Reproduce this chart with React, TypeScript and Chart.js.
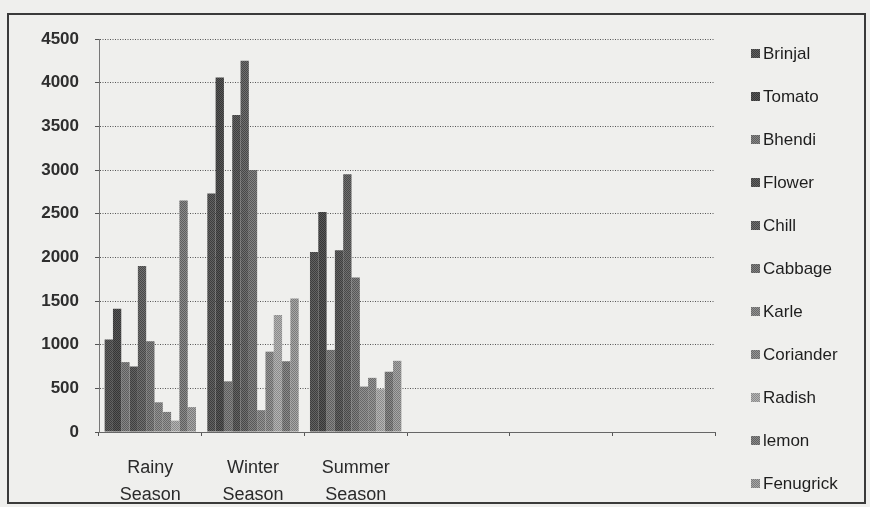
import React, { useEffect, useRef } from "react";
import { Chart, registerables } from "chart.js";

Chart.register(...registerables);

const categories: (string | string[])[] = [
  ["Rainy", "Season"],
  ["Winter", "Season"],
  ["Summer", "Season"],
  "",
  "",
  "",
];

const seriesNames = [
  "Brinjal",
  "Tomato",
  "Bhendi",
  "Flower",
  "Chill",
  "Cabbage",
  "Karle",
  "Coriander",
  "Radish",
  "lemon",
  "Fenugrick",
];

const brinjal = [1060, 2730, 2060, null, null, null];
const tomato = [1410, 4060, 2520, null, null, null];
const bhendi = [800, 580, 940, null, null, null];
const flower = [750, 3630, 2080, null, null, null];
const chill = [1900, 4250, 2950, null, null, null];
const cabbage = [1040, 3000, 1770, null, null, null];
const karle = [340, 250, 520, null, null, null];
const coriander = [230, 920, 620, null, null, null];
const radish = [130, 1340, 490, null, null, null];
const lemon = [2650, 810, 690, null, null, null];
const fenugrick = [285, 1530, 815, null, null, null];

const seriesValues = [
  brinjal,
  tomato,
  bhendi,
  flower,
  chill,
  cabbage,
  karle,
  coriander,
  radish,
  lemon,
  fenugrick,
];

const yTicks = [0, 500, 1000, 1500, 2000, 2500, 3000, 3500, 4000, 4500];

const shades: [string, string][] = [
  ["#3e3e3e", "#626262"],
  ["#363636", "#585858"],
  ["#5e5e5e", "#868686"],
  ["#3f3f3f", "#636363"],
  ["#484848", "#707070"],
  ["#585858", "#828282"],
  ["#686868", "#929292"],
  ["#6a6a6a", "#969696"],
  ["#8a8a8a", "#b4b4b4"],
  ["#5e5e5e", "#8a8a8a"],
  ["#7a7a7a", "#a6a6a6"],
];

function makePattern(dark: string, light: string): CanvasPattern | string {
  const c = document.createElement("canvas");
  c.width = 2;
  c.height = 2;
  const ctx = c.getContext("2d");
  if (!ctx) return dark;
  ctx.fillStyle = light;
  ctx.fillRect(0, 0, 2, 2);
  ctx.fillStyle = dark;
  ctx.fillRect(0, 0, 1, 1);
  ctx.fillRect(1, 1, 1, 1);
  const p = ctx.createPattern(c, "repeat");
  return p || dark;
}

const framePlugin = {
  id: "frame",
  beforeDraw(chart: any) {
    const ctx = chart.ctx;
    ctx.save();
    ctx.fillStyle = "#efefed";
    ctx.fillRect(0, 0, chart.width, chart.height);
    ctx.strokeStyle = "#3a3a3a";
    ctx.lineWidth = 2;
    ctx.strokeRect(8, 14, 857, 489);
    ctx.restore();
  },
  afterDraw(chart: any) {
    const ctx = chart.ctx;
    ctx.save();
    ctx.font = '17px "Liberation Sans", Arial, sans-serif';
    ctx.textBaseline = "middle";
    ctx.textAlign = "left";
    chart.data.datasets.forEach((ds: any, i: number) => {
      const y = 54 + i * 43;
      ctx.fillStyle = ds.backgroundColor;
      ctx.fillRect(751, y - 5, 9, 9);
      ctx.fillStyle = "#1e1e1e";
      ctx.fillText(ds.label, 763, y);
    });
    ctx.restore();
  },
};

export default function App() {
  const ref = useRef<HTMLCanvasElement | null>(null);

  useEffect(() => {
    if (!ref.current) return;
    const datasets = seriesNames.map((name, i) => ({
      label: name,
      data: seriesValues[i],
      backgroundColor: makePattern(shades[i][0], shades[i][1]),
      borderWidth: 0,
      barPercentage: 1,
      categoryPercentage: 0.89,
    }));
    const chart = new Chart(ref.current, {
      type: "bar",
      data: { labels: categories, datasets: datasets as any },
      plugins: [framePlugin],
      options: {
        animation: false,
        responsive: false,
        maintainAspectRatio: false,
        layout: { padding: { left: 8, top: 39, right: 155, bottom: 0 } },
        plugins: {
          legend: { display: false },
          tooltip: { enabled: false },
          title: { display: false },
        },
        scales: {
          x: {
            offset: true,
            grid: {
              display: true,
              drawOnChartArea: false,
              drawTicks: true,
              tickLength: 4,
              color: "#555",
              offset: true,
            },
            border: { display: true, color: "#666", width: 1 },
            ticks: {
              color: "#2a2a2a",
              padding: 19,
              maxRotation: 0,
              autoSkip: false,
              font: {
                family: '"Liberation Sans", Arial, sans-serif',
                size: 18,
                lineHeight: 1.5,
              },
            },
            afterFit: (s: any) => {
              s.height = 75;
            },
          },
          y: {
            min: 0,
            max: 4500,
            afterBuildTicks: (s: any) => {
              s.ticks = yTicks.map((v) => ({ value: v }));
            },
            grid: {
              display: true,
              color: "#555",
              lineWidth: 1,
              tickLength: 4,
              drawTicks: true,
            },
            border: { display: true, color: "#777", width: 1, dash: [1, 1.5] },
            ticks: {
              color: "#2e2e2e",
              padding: 16,
              callback: (v: any) => String(v),
              font: {
                family: '"Liberation Sans", Arial, sans-serif',
                size: 17,
                weight: "bold",
              },
            },
            afterFit: (s: any) => {
              s.width = 91;
            },
          },
        },
      },
    });
    return () => chart.destroy();
  }, []);

  return (
    <div style={{ position: "fixed", left: 0, top: 0, width: 870, height: 507 }}>
      <canvas ref={ref} width={870} height={507} style={{ display: "block" }} />
    </div>
  );
}
